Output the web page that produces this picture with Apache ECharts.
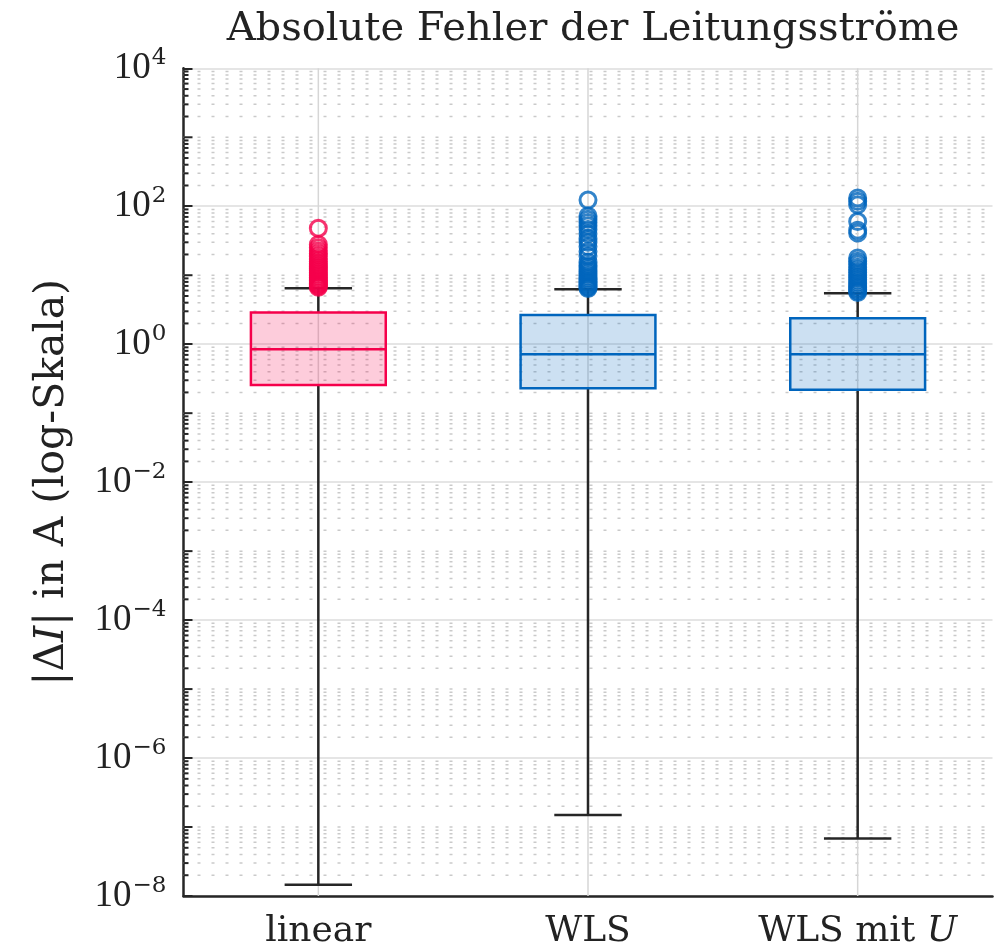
<!DOCTYPE html>
<html>
<head>
<meta charset="utf-8">
<script src="https://cdn.jsdelivr.net/npm/echarts@6/dist/echarts.min.js"></script>
<style>
  html, body { margin: 0; padding: 0; background: #fff; }
  #chart { width: 1003px; height: 950px; }
</style>
</head>
<body>
<div id="chart"></div>
<script>
// Kategorien und Boxplot-Kennwerte: [min, Q1, Median, Q3, max]
const categories = ['linear', 'WLS', 'WLS mit U'];
const boxLinear = [1.46e-8, 0.257, 0.847, 2.87, 6.48];
const boxWLS = [1.5e-7, 0.23, 0.716, 2.66, 6.27];
const boxWLSU = [6.8e-8, 0.218, 0.716, 2.38, 5.48];

// Ausreisser (aus dem Bild geschaetzt)
const outLinear = [6.7, 7.0, 7.3, 7.6, 8.0, 8.4, 8.8, 9.3, 9.8, 10.4, 11, 11.8, 12.6, 13.5, 14.5, 15.8, 17.2, 18.8, 20.5, 22.5, 25, 28, 48];
const outWLS = [6.4, 6.7, 7.0, 7.4, 7.8, 8.2, 8.7, 9.2, 9.8, 10.5, 11.2, 12, 13, 14, 15.5, 19, 22, 26, 30, 34, 40, 46, 52, 58, 65, 72, 123];
const outWLSU = [5.6, 5.9, 6.2, 6.6, 7.0, 7.5, 8.0, 8.6, 9.3, 10, 11, 12, 13, 14.5, 16, 17.8, 41, 45, 60, 105, 118, 132];

// Achse
const yMin = 1e-8;
const yMax = 1e4;

const red = '#F5004B';
const blue = '#0065BD';
const boxColors = [red, blue, blue];
const boxFills = ['rgba(245,0,75,0.2)', 'rgba(0,101,189,0.2)', 'rgba(0,101,189,0.2)'];
const whiskerColor = '#262626';
const textColor = '#222';
const serif = '"Liberation Serif", serif';
const wideSerif = '"DejaVu Serif", serif';

// Nebenteilstriche 2..9 * 10^k und ungerade Dekaden (Hilfsgitter)
const minorTicks = [];
for (let k = -8; k < 4; k++) {
  if (k % 2 !== 0) minorTicks.push([0, Math.pow(10, k), 1]);
  for (let m = 2; m <= 9; m++) minorTicks.push([0, m * Math.pow(10, k), 0]);
}

const chart = echarts.init(document.getElementById('chart'));

const boxData = [boxLinear, boxWLS, boxWLSU].map((b, i) => [i].concat(b));

function toSup(n) {
  return n < 0 ? '\u2212' + Math.abs(n) : String(n);
}

function outlierSeries(vals, idx, color) {
  return {
    type: 'scatter',
    z: 4,
    symbol: 'circle',
    symbolSize: 16,
    itemStyle: { color: 'rgba(0,0,0,0)', borderColor: color, borderWidth: 3 },
    data: vals.map(v => [idx, v])
  };
}

const option = {
  backgroundColor: '#fff',
  animation: false,
  title: {
    text: 'Absolute Fehler der Leitungsströme',
    left: 588,
    top: 5,
    textAlign: 'center',
    textStyle: { fontFamily: wideSerif, fontSize: 40, fontWeight: 'normal', color: textColor }
  },
  grid: { left: 183.5, right: 10.5, top: 68.3, bottom: 54 },
  xAxis: {
    type: 'category',
    data: categories,
    boundaryGap: true,
    axisLine: { lineStyle: { color: whiskerColor, width: 2.5 } },
    axisTick: { inside: true, alignWithLabel: true, length: 9, lineStyle: { color: whiskerColor, width: 2.5 } },
    axisLabel: {
      interval: 0,
      margin: 18,
      fontFamily: wideSerif,
      fontSize: 36,
      color: textColor,
      formatter: v => v === 'WLS mit U' ? 'WLS mit {i|U}' : v,
      rich: { i: { fontFamily: wideSerif, fontSize: 36, fontStyle: 'italic', color: textColor } }
    },
    splitLine: { show: false }
  },
  yAxis: {
    type: 'log',
    logBase: 10,
    min: yMin,
    max: yMax,
    interval: 2,
    name: '{a||\u0394}{i|I}{a|| in A (log-Skala)}',
    nameLocation: 'middle',
    nameGap: 111,
    nameRotate: 90,
    nameTextStyle: {
      rich: {
        a: { fontFamily: wideSerif, fontSize: 41, color: textColor },
        i: { fontFamily: wideSerif, fontSize: 41, fontStyle: 'italic', color: textColor }
      }
    },
    axisLine: { show: true, lineStyle: { color: whiskerColor, width: 2.5 } },
    axisTick: { show: true, inside: true, length: 9, lineStyle: { color: whiskerColor, width: 2 } },
    minorTick: { show: false },
    axisLabel: {
      margin: 17,
      formatter: function (v) {
        const e = Math.round(Math.log10(v));
        return '{b|10}{e|' + toSup(e) + '}';
      },
      rich: {
        b: { fontFamily: serif, fontSize: 37, color: textColor, lineHeight: 40 },
        e: { fontFamily: wideSerif, fontSize: 23, color: textColor, lineHeight: 40, padding: [0, 0, 20, 1] }
      }
    },
    splitLine: { show: true, lineStyle: { color: '#DCDCDC', width: 1.5 } }
  },
  series: [
    {
      // Hilfsgitter + kleine Teilstriche
      type: 'custom',
      silent: true,
      z: 1,
      data: minorTicks,
      renderItem: function (params, api) {
        const cs = params.coordSys;
        const p = api.coord([0, api.value(1)]);
        const major = api.value(2) === 1;
        return {
          type: 'group',
          children: [
            {
              type: 'line',
              shape: { x1: cs.x, y1: p[1], x2: cs.x + cs.width, y2: p[1] },
              style: { stroke: '#CACACA', lineWidth: 1.5, lineDash: [3, 11] }
            },
            {
              type: 'line',
              shape: { x1: cs.x, y1: p[1], x2: cs.x + (major ? 9 : 5), y2: p[1] },
              style: { stroke: whiskerColor, lineWidth: 2 }
            }
          ]
        };
      }
    },
    {
      // senkrechte Gitterlinien bei den Kategorien
      type: 'custom',
      silent: true,
      z: 1,
      data: [[0, 1], [1, 1], [2, 1]],
      renderItem: function (params, api) {
        const cs = params.coordSys;
        const p = api.coord([api.value(0), 1]);
        return {
          type: 'line',
          shape: { x1: p[0], y1: cs.y, x2: p[0], y2: cs.y + cs.height },
          style: { stroke: '#D6D6D6', lineWidth: 1.5 }
        };
      }
    },
    {
      type: 'custom',
      z: 3,
      data: boxData,
      encode: { x: 0, y: [1, 2, 3, 4, 5] },
      renderItem: function (params, api) {
        const cs = params.coordSys;
        const idx = api.value(0);
        const bw = cs.width / categories.length;
        const pMin = api.coord([idx, api.value(1)]);
        const pQ1 = api.coord([idx, api.value(2)]);
        const pMed = api.coord([idx, api.value(3)]);
        const pQ3 = api.coord([idx, api.value(4)]);
        const pMax = api.coord([idx, api.value(5)]);
        const cx = pMed[0];
        const hb = 0.25 * bw;
        const hc = 0.125 * bw;
        const col = boxColors[idx];
        const wStyle = { stroke: whiskerColor, lineWidth: 2.5 };
        return {
          type: 'group',
          children: [
            { type: 'line', shape: { x1: cx, y1: pQ3[1], x2: cx, y2: pMax[1] }, style: wStyle },
            { type: 'line', shape: { x1: cx, y1: pQ1[1], x2: cx, y2: pMin[1] }, style: wStyle },
            { type: 'line', shape: { x1: cx - hc, y1: pMax[1], x2: cx + hc, y2: pMax[1] }, style: wStyle },
            { type: 'line', shape: { x1: cx - hc, y1: pMin[1], x2: cx + hc, y2: pMin[1] }, style: wStyle },
            {
              type: 'rect',
              shape: { x: cx - hb, y: pQ3[1], width: 2 * hb, height: pQ1[1] - pQ3[1] },
              style: { fill: boxFills[idx], stroke: col, lineWidth: 2.5 }
            },
            {
              type: 'line',
              shape: { x1: cx - hb, y1: pMed[1], x2: cx + hb, y2: pMed[1] },
              style: { stroke: col, lineWidth: 2.5 }
            }
          ]
        };
      }
    },
    outlierSeries(outLinear, 0, red),
    outlierSeries(outWLS, 1, blue),
    outlierSeries(outWLSU, 2, blue)
  ]
};

chart.setOption(option);
window.addEventListener('resize', () => chart.resize());
</script>
</body>
</html>
